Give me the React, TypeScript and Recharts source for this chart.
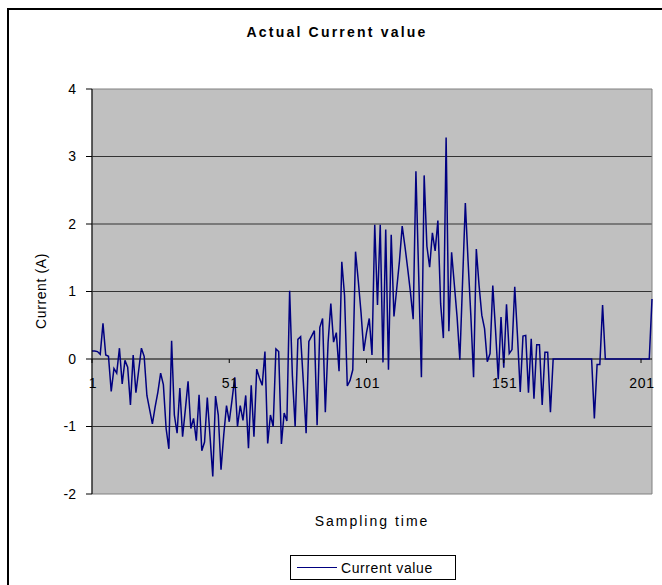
import { LineChart, Line, XAxis, YAxis, CartesianGrid, ReferenceArea, ReferenceLine, Legend } from 'recharts';

// sample index 1..205 along the horizontal axis
const SAMPLES = Array.from({ length: 205 }, (_, i) => i + 1);

// measured current, amperes
const CURRENT = [
  0.12, 0.12, 0.11, 0.07, 0.53, 0.06, 0.04, -0.48, -0.14, -0.21,
  0.16, -0.37, -0.02, -0.12, -0.68, 0.06, -0.5, -0.17, 0.16, 0.04,
  -0.54, -0.75, -0.96, -0.71, -0.49, -0.21, -0.38, -1.03, -1.33, 0.27,
  -0.83, -1.1, -0.43, -1.15, -0.75, -0.33, -1.03, -0.88, -1.21, -0.53,
  -1.36, -1.23, -0.57, -1.15, -1.74, -0.55, -0.83, -1.64, -1.12, -0.69,
  -0.93, -0.61, -0.27, -1.0, -0.69, -0.91, -0.54, -1.32, -0.39, -1.15,
  -0.15, -0.28, -0.39, 0.11, -1.25, -0.83, -1.0, 0.15, 0.11, -1.26,
  -0.8, -0.92, 1.01, -0.25, -1.0, 0.29, 0.33, -0.35, -1.1, 0.26,
  0.34, 0.42, -0.98, 0.47, 0.6, -0.79, 0.24, 0.82, 0.25, 0.39,
  -0.18, 1.44, 0.94, -0.4, -0.32, -0.16, 1.59, 1.16, 0.69, 0.12,
  0.39, 0.6, 0.06, 1.99, 0.8, 1.99, -0.05, 1.92, -0.16, 1.84,
  0.63, 1.04, 1.45, 1.97, 1.67, 1.34, 0.99, 0.59, 2.78, 1.25,
  -0.27, 2.72, 1.67, 1.36, 1.87, 1.6, 2.05, 0.82, 0.31, 3.28,
  0.41, 1.58, 1.1, 0.62, -0.01, 1.15, 2.31, 1.45, 0.65, -0.27,
  1.63, 1.09, 0.65, 0.45, -0.04, 0.08, 1.09, 0.43, -0.3, 0.62,
  -0.13, 0.81, 0.08, 0.14, 1.07, 0.34, -0.49, 0.34, 0.35, -0.5,
  0.3, -0.59, 0.21, 0.21, -0.68, 0.1, 0.1, -0.79, 0, 0,
  0, 0, 0, 0, 0, 0, 0, 0, 0, 0,
  0, 0, 0, -0.88, -0.08, -0.08, 0.8, 0, 0, 0,
  0, 0, 0, 0, 0, 0, 0, 0, 0, 0,
  0, 0, 0, 0, 0.89,
];

const X_TICKS = [1, 51, 101, 151, 201];
const Y_TICKS = [-2, -1, 0, 1, 2, 3, 4];
const GRID_VALUES = [-1, 1, 2, 3];

const data = SAMPLES.map((t, i) => ({ t, current: CURRENT[i] }));

const FONT = '"Liberation Sans", Arial, sans-serif';
const W = 662;
const H = 585;
const PLOT_TOP = 89;
const PLOT_BOTTOM = 494;
const PLOT_LEFT = 92;
const PLOT_RIGHT = 652;
const X_AXIS_H = 30;
// the category axis crosses the value axis at 0
const ZERO_Y = PLOT_TOP + ((PLOT_BOTTOM - PLOT_TOP) * 4) / 6;

function SampleTick(props: any) {
  const { x, payload } = props;
  return (
    <g>
      <line x1={x} x2={x} y1={ZERO_Y} y2={ZERO_Y + 4} stroke="#000" />
      <text
        x={x + 1}
        y={ZERO_Y + 29}
        textAnchor="middle"
        style={{ fontSize: 14, fontFamily: FONT, letterSpacing: 0.8 }}
        fill="#000"
      >
        {payload.value}
      </text>
    </g>
  );
}

function LegendBox() {
  return (
    <div
      style={{
        width: 166,
        height: 25,
        border: '1px solid #000',
        background: '#fff',
        display: 'flex',
        alignItems: 'center',
        fontFamily: FONT,
        fontSize: 14,
        boxSizing: 'border-box',
      }}
    >
      <span style={{ display: 'inline-block', width: 40, height: 0, borderTop: '1px solid #000080', marginLeft: 6, marginRight: 4 }} />
      <span style={{ letterSpacing: 0.6 }}>Current value</span>
    </div>
  );
}

export default function App() {
  return (
    <div style={{ position: 'fixed', left: 0, top: 0, width: W, height: H, overflow: 'hidden', background: '#fff' }}>
      <div
        style={{
          position: 'absolute',
          left: 7,
          top: 8,
          width: 720,
          height: 700,
          borderLeft: '2px solid #000',
          borderTop: '2px solid #000',
        }}
      />
      <div
        style={{
          position: 'absolute',
          left: 0,
          width: 674,
          top: 24,
          textAlign: 'center',
          fontFamily: FONT,
          fontSize: 14,
          fontWeight: 'bold',
          letterSpacing: 2.2,
        }}
      >
        Actual Current value
      </div>
      <div
        style={{
          position: 'absolute',
          left: 41,
          top: 291,
          transform: 'translate(-50%, -50%) rotate(-90deg)',
          whiteSpace: 'nowrap',
          fontFamily: FONT,
          fontSize: 14,
          letterSpacing: 0.6,
        }}
      >
        Current (A)
      </div>
      <div
        style={{
          position: 'absolute',
          left: 272,
          width: 200,
          top: 513,
          textAlign: 'center',
          fontFamily: FONT,
          fontSize: 14,
          letterSpacing: 2,
        }}
      >
        Sampling time
      </div>
      <div style={{ position: 'absolute', left: 0, top: 0 }}>
        <LineChart
          width={W}
          height={H}
          data={data}
          margin={{ top: PLOT_TOP, right: W - PLOT_RIGHT, bottom: H - PLOT_BOTTOM - X_AXIS_H, left: 0 }}
        >
          <CartesianGrid vertical={false} horizontalValues={GRID_VALUES} stroke="#333" fill="#C0C0C0" fillOpacity={1} />
          <ReferenceArea x1={1} x2={205} y1={-2} y2={4} fill="none" stroke="#808080" strokeWidth={1} ifOverflow="visible" />
          <ReferenceLine y={0} stroke="#000" strokeWidth={1} />
          <XAxis
            dataKey="t"
            type="number"
            domain={[1, 205]}
            ticks={X_TICKS}
            interval={0}
            height={X_AXIS_H}
            axisLine={false}
            tickLine={false}
            tick={(p: any) => <SampleTick {...p} />}
          />
          <YAxis
            type="number"
            domain={[-2, 4]}
            ticks={Y_TICKS}
            interval={0}
            width={PLOT_LEFT}
            axisLine={{ stroke: '#000' }}
            tickLine={{ stroke: '#000' }}
            tickSize={6}
            tickMargin={10}
            tick={{ fill: '#000', fontSize: 14, fontFamily: FONT }}
          />
          <Legend
            verticalAlign="middle"
            layout="horizontal"
            content={() => <LegendBox />}
            wrapperStyle={{ left: 290, top: 555, width: 168, height: 27 }}
          />
          <Line
            type="linear"
            dataKey="current"
            name="Current value"
            stroke="#000080"
            strokeWidth={1.5}
            dot={false}
            isAnimationActive={false}
          />
        </LineChart>
      </div>
    </div>
  );
}
